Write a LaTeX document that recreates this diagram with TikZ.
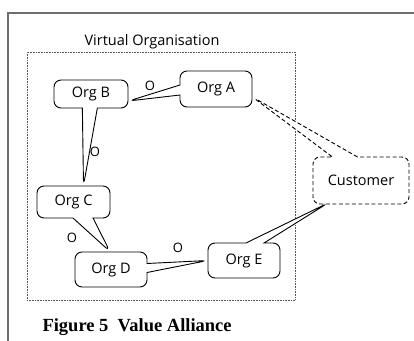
\documentclass[tikz,border=0pt]{standalone}
\usepackage{fontspec}
\setmainfont{Liberation Serif}
\newfontfamily\orgfont{Open Sans}
\usetikzlibrary{shapes.callouts,calc}
\definecolor{voFrame}{HTML}{6E6E6E}
\definecolor{voDots}{HTML}{555555}
\tikzset{
    orgbox/.style={rectangle callout, draw=black, line width=0.9pt, rounded corners=7pt, fill=white, inner sep=0pt, font=\orgfont\fontsize{14.5}{16}\selectfont, align=center},
    custbox/.style={orgbox, dashed, dash pattern=on 4pt off 2.5pt},
    linklabel/.style={font=\orgfont\fontsize{13}{15}\selectfont}
}
\begin{document}
\begin{tikzpicture}[x=1pt,y=-1pt]
    \useasboundingbox (0,0) rectangle (414,340);
    % Page frame
    \draw[voFrame, line width=1.5pt] (8,345) -- (8,13) -- (420,13);

    % Virtual organisation boundary
    \node[draw=voDots, densely dotted, line width=0.6pt, minimum width=268pt, minimum height=248pt, inner sep=0pt] at (161,176) (vo) {};
    \node[font=\orgfont\fontsize{14.5}{16}\selectfont] at (152,42) (votitle) {Virtual Organisation};

    % Tip of Org E pointer (Customer not yet placed)
    \coordinate (custtip) at (328,203);

    % Organisations
    \node[orgbox, minimum width=72pt, minimum height=35pt, callout absolute pointer={(custtip)}, callout pointer width=18pt] at (244,260.5) (orge) {Org E};
    \node[orgbox, minimum width=72pt, minimum height=35pt, callout absolute pointer={(orge.west)}, callout pointer width=9pt] at (111,269.5) (orgd) {Org D};
    \node[orgbox, minimum width=73pt, minimum height=32pt, callout absolute pointer={($(orgd.north)+(-1,0)$)}, callout pointer width=20pt] at (73.5,202) (orgc) {Org C};
    \node[orgbox, minimum width=74pt, minimum height=28pt, callout absolute pointer={($(orgc.north)+(10,0)$)}, callout pointer width=15pt] at (91,94) (orgb) {Org B};
    \node[orgbox, minimum width=72pt, minimum height=36pt, callout absolute pointer={($(orgb.east)+(0,7)$)}, callout pointer width=10pt] at (216,89) (orga) {Org A};

    % Customer
    \node[custbox, minimum width=96pt, minimum height=47pt, callout absolute pointer={($(orga.east)+(0,8)$)}, callout pointer width=25pt] at (361,180.5) (cust) {Customer};

    % Link labels
    \node[linklabel] at (150,86) (oab) {O};
    \node[linklabel] at (95,152) (obc) {O};
    \node[linklabel] at (72,238) (ocd) {O};
    \node[linklabel] at (178,248) (ode) {O};

    % Caption
    \node[anchor=west, font=\bfseries\fontsize{18.5}{20}\selectfont] at (39,327) (caption) {Figure 5\ \ Value Alliance};
\end{tikzpicture}
\end{document}
